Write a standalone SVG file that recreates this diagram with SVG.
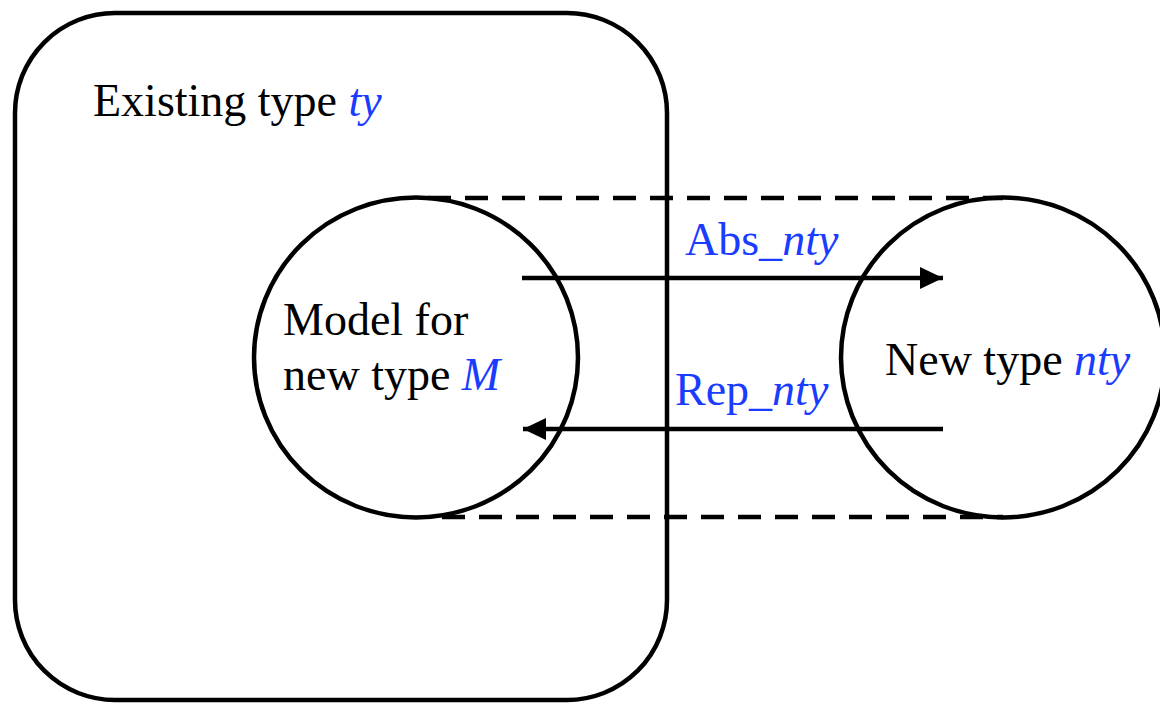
<svg xmlns="http://www.w3.org/2000/svg" width="1160" height="704" viewBox="0 0 1160 704">
<style>
.s{fill:none;stroke:#000;stroke-width:4.5}
.d{fill:none;stroke:#000;stroke-width:4.5;stroke-dasharray:23 14}
text{font-family:'Liberation Serif','DejaVu Serif',serif;font-size:46px;fill:#000}
.b{fill:#1A3CFF}
.i{font-style:italic;fill:#1A3CFF}
</style>
<defs>
<marker id="ah" markerWidth="24" markerHeight="22" refX="23" refY="11" orient="auto" markerUnits="userSpaceOnUse">
<path d="M0,0 L23,11 L0,22 Z" fill="#000"/>
</marker>
</defs>
<rect width="1160" height="704" fill="#fff"/>
<g id="existing-type">
<rect class="s" x="15" y="13" width="652" height="687" rx="100" ry="100"/>
<text x="93" y="116" font-family="Liberation Serif, serif">Existing type <tspan class="i">ty</tspan></text>
</g>
<g id="model">
<ellipse class="s" cx="416" cy="357.5" rx="162" ry="160"/>
<text x="283" y="335" font-family="Liberation Serif, serif">Model for</text>
<text x="283" y="390" font-family="Liberation Serif, serif">new type <tspan class="i">M</tspan></text>
</g>
<g id="new-type">
<ellipse class="s" cx="1003" cy="357.5" rx="162" ry="160"/>
<text x="885" y="375" font-family="Liberation Serif, serif">New type <tspan class="i">nty</tspan></text>
</g>
<g id="connectors">
<line class="d" x1="428" y1="198" x2="1003" y2="198"/>
<line class="d" x1="442" y1="517" x2="1003" y2="517"/>
<line class="s" x1="522" y1="278" x2="943" y2="278" marker-end="url(#ah)"/>
<line class="s" x1="943" y1="429" x2="523" y2="429" marker-end="url(#ah)"/>
<text class="b" x="685" y="255" font-family="Liberation Serif, serif">Abs_<tspan class="i">nty</tspan></text>
<text class="b" x="675" y="405" font-family="Liberation Serif, serif">Rep_<tspan class="i">nty</tspan></text>
</g>
</svg>
